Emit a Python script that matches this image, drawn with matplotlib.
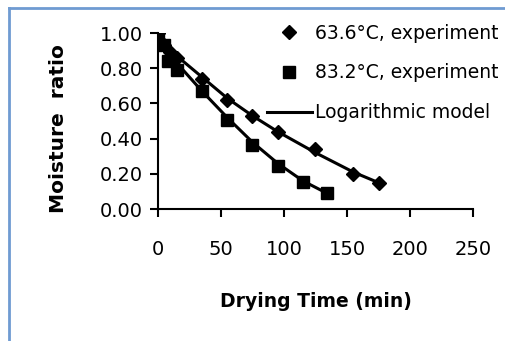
import matplotlib.pyplot as plt
from matplotlib.lines import Line2D

plt.rcParams['font.family'] = ['DejaVu Sans']

# 63.6 C drying run
t_63 = [0, 5, 10, 15, 35, 55, 75, 95, 125, 155, 175]
mr_63 = [1.00, 0.93, 0.89, 0.86, 0.74, 0.62, 0.53, 0.44, 0.34, 0.20, 0.15]
model_63 = [0.98, 0.94, 0.90, 0.87, 0.75, 0.63, 0.53, 0.44, 0.32, 0.21, 0.15]

# 83.2 C drying run
t_83 = [0, 5, 8, 15, 35, 55, 75, 95, 115, 134]
mr_83 = [1.00, 0.93, 0.84, 0.79, 0.67, 0.505, 0.365, 0.245, 0.155, 0.09]
model_83 = [0.99, 0.93, 0.89, 0.83, 0.67, 0.52, 0.38, 0.26, 0.16, 0.09]

labels = ['63.6°C, experiment', '83.2°C, experiment', 'Logarithmic model']

fig = plt.figure(figsize=(5.06, 3.41), dpi=100)
ax = fig.add_axes([0.312, 0.387, 0.623, 0.516])

ax.plot(t_63, model_63, color='black', lw=2.2, zorder=2)
ax.plot(t_83, model_83, color='black', lw=2.2, zorder=2)
ax.plot(t_63, mr_63, 'D', color='black', ms=7, ls='none', zorder=3)
ax.plot(t_83, mr_83, 's', color='black', ms=9, ls='none', zorder=3)

ax.set_xlim(0, 250)
ax.set_ylim(0, 1.0)
ax.set_xticks([0, 50, 100, 150, 200, 250])
ax.set_yticks([0, 0.2, 0.4, 0.6, 0.8, 1.0])
ax.set_yticklabels([f'{v:.2f}' for v in ax.get_yticks()])
for s in ['top', 'right']:
    ax.spines[s].set_visible(False)
for s in ['left', 'bottom']:
    ax.spines[s].set_linewidth(1.5)
ax.tick_params(direction='out', length=6, width=1.5, labelsize=14)
ax.tick_params(axis='y', pad=5)
ax.tick_params(axis='x', pad=16)

ax.set_ylabel('Moisture  ratio', fontsize=14.5, fontweight='bold')
ax.yaxis.set_label_coords(-0.285, 0.46)
ax.set_xlabel('Drying Time (min)', fontsize=13.5, fontweight='bold', labelpad=24)

handles = [
    Line2D([], [], marker='D', color='black', ls='none', ms=7),
    Line2D([], [], marker='s', color='black', ls='none', ms=9),
    Line2D([], [], color='black', lw=2.2),
]
fig.legend(handles, labels, loc='upper left', bbox_to_anchor=(0.512, 0.952),
           frameon=False, fontsize=13.5, handlelength=2.4, handletextpad=0.2,
           labelspacing=1.1, borderaxespad=0)

# chart area border (left and top edges visible in the crop)
border = '#6f9bd2'
fig.add_artist(Line2D([0.018, 0.018], [0, 0.977], color=border, lw=2))
fig.add_artist(Line2D([0.018, 1], [0.977, 0.977], color=border, lw=2))

fig.savefig('out.png', dpi=100)
